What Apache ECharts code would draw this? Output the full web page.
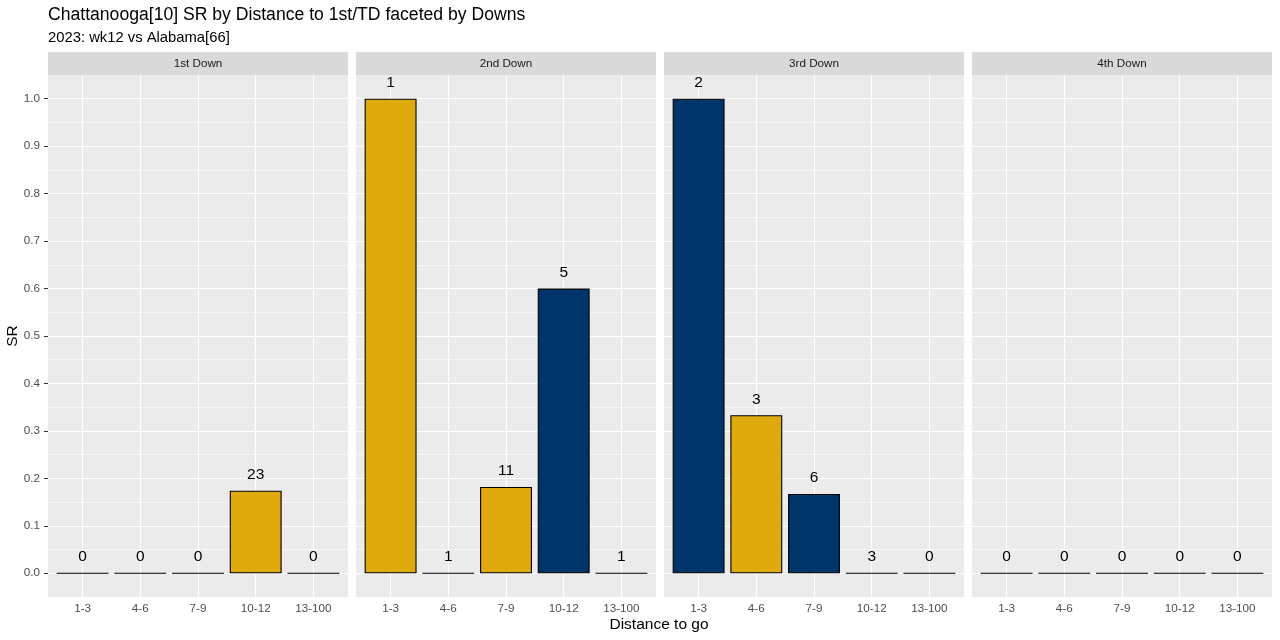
<!DOCTYPE html>
<html><head><meta charset="utf-8">
<script src="https://cdn.jsdelivr.net/npm/echarts@6/dist/echarts.min.js"></script>
<style>html,body{margin:0;padding:0;background:#fff}#c{width:1280px;height:640px}</style>
</head><body><div id="c"></div>
<script>
const downs = ['1st Down', '2nd Down', '3rd Down', '4th Down'];
const distances = ['1-3', '4-6', '7-9', '10-12', '13-100'];
const sr1st = [0, 0, 0, 0.174, 0];
const sr2nd = [1, 0, 0.182, 0.6, 0];
const sr3rd = [1, 0.333, 0.167, 0, 0];
const sr4th = [0, 0, 0, 0, 0];
const plays1st = [0, 0, 0, 23, 0];
const plays2nd = [1, 1, 11, 5, 1];
const plays3rd = [2, 3, 6, 3, 0];
const plays4th = [0, 0, 0, 0, 0];
const group1st = ['A', 'A', 'A', 'A', 'A'];
const group2nd = ['A', 'A', 'A', 'B', 'A'];
const group3rd = ['B', 'A', 'B', 'A', 'A'];
const group4th = ['A', 'A', 'A', 'A', 'A'];
const yTicks = [0, 0.1, 0.2, 0.3, 0.4, 0.5, 0.6, 0.7, 0.8, 0.9, 1.0];
const yMinor = [0.05, 0.15, 0.25, 0.35, 0.45, 0.55, 0.65, 0.75, 0.85, 0.95];
const xPos = [1, 2, 3, 4, 5];

const srs = [sr1st, sr2nd, sr3rd, sr4th];
const plays = [plays1st, plays2nd, plays3rd, plays4th];
const groups = [group1st, group2nd, group3rd, group4th];
const fillColors = { A: '#E0AA0F', B: '#00356B' };
const FF = '"Liberation Sans", Arial, sans-serif';

const panelLeft = [48, 356, 664, 972];
const panelW = 300, panelTop = 75, panelBottom = 597;
const stripTop = 52;

const grids = [], xAxes = [], yAxes = [], series = [], graphics = [];
downs.forEach((d, i) => {
  grids.push({ left: panelLeft[i], width: panelW, top: panelTop, height: panelBottom - panelTop,
    show: true, backgroundColor: '#EBEBEB', borderWidth: 0, containLabel: false });
  xAxes.push({ type: 'value', gridIndex: i, min: 0.4, max: 5.6,
    axisLine: { show: false }, splitLine: { show: false },
    axisTick: { show: true, length: 4, customValues: xPos, lineStyle: { color: '#333333', width: 1 } },
    axisLabel: { show: true, customValues: xPos, formatter: v => distances[Math.round(v) - 1] || '',
      color: '#4D4D4D', fontSize: 11.7, fontFamily: FF, margin: 6 } });
  yAxes.push({ type: 'value', gridIndex: i, min: -0.05, max: 1.05,
    axisLine: { show: false }, splitLine: { show: false },
    axisTick: { show: i === 0, length: 4, customValues: yTicks, lineStyle: { color: '#333333', width: 1 } },
    axisLabel: { show: i === 0, customValues: yTicks, formatter: v => v.toFixed(1),
      color: '#4D4D4D', fontSize: 11.7, fontFamily: FF, margin: 8 } });
  const lines = [];
  yMinor.forEach(v => lines.push({ yAxis: v, lineStyle: { color: '#FFFFFF', width: 0.55, type: 'solid' } }));
  yTicks.forEach(v => lines.push({ yAxis: v, lineStyle: { color: '#FFFFFF', width: 1.1, type: 'solid' } }));
  xPos.forEach(v => lines.push({ xAxis: v, lineStyle: { color: '#FFFFFF', width: 1.1, type: 'solid' } }));
  series.push({ type: 'line', xAxisIndex: i, yAxisIndex: i, data: [[1, 0]], showSymbol: false,
    lineStyle: { opacity: 0 }, silent: true, animation: false, z: 1,
    markLine: { silent: true, symbol: ['none', 'none'], label: { show: false }, animation: false, z: 1,
      emphasis: { disabled: true }, data: lines } });
  series.push({ type: 'bar', xAxisIndex: i, yAxisIndex: i, barWidth: 51.9, animation: false, z: 3,
    data: srs[i].map((v, k) => ({ value: [xPos[k], v],
      itemStyle: { color: fillColors[groups[i][k]], borderColor: '#000000', borderWidth: 1.1 } })),
    label: { show: true, position: 'top', distance: 8,
      formatter: p => String(plays[i][p.dataIndex]),
      color: '#000000', fontSize: 15.5, fontFamily: FF } });
  graphics.push({ type: 'rect', left: panelLeft[i], top: stripTop,
    shape: { width: panelW, height: panelTop - stripTop }, style: { fill: '#D9D9D9' }, silent: true });
  graphics.push({ type: 'text', x: panelLeft[i] + panelW / 2, y: stripTop + (panelTop - stripTop) / 2,
    style: { text: d, fill: '#1A1A1A', font: '11.7px ' + FF,
      textAlign: 'center', textVerticalAlign: 'middle' } });
});
graphics.push({ type: 'text', x: 48, y: 15, style: { text: 'Chattanooga[10] SR by Distance to 1st/TD faceted by Downs',
  fill: '#000000', font: '17.6px ' + FF, textVerticalAlign: 'middle' } });
graphics.push({ type: 'text', x: 48, y: 38, style: { text: '2023: wk12 vs Alabama[66]',
  fill: '#000000', font: '14.8px ' + FF, textVerticalAlign: 'middle' } });
graphics.push({ type: 'text', x: 659, y: 625, style: { text: 'Distance to go',
  fill: '#000000', font: '15.5px ' + FF, textAlign: 'center', textVerticalAlign: 'middle' } });
graphics.push({ type: 'text', x: 13, y: 336, rotation: Math.PI / 2, style: { text: 'SR',
  fill: '#000000', font: '15.5px ' + FF, textAlign: 'center', textVerticalAlign: 'middle' } });

const chart = echarts.init(document.getElementById('c'), null, { renderer: 'canvas' });
chart.setOption({ animation: false, backgroundColor: '#FFFFFF', grid: grids, xAxis: xAxes, yAxis: yAxes,
  series: series, graphic: graphics });
</script></body></html>
